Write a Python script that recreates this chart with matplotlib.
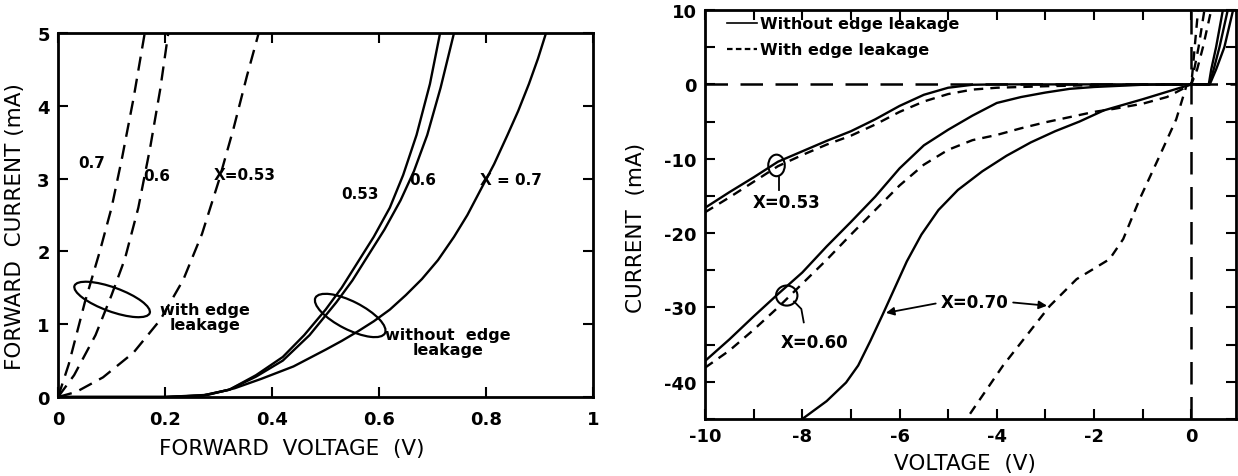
import numpy as np
import matplotlib
matplotlib.use("Agg")
import matplotlib.pyplot as plt
from matplotlib.patches import Ellipse
from matplotlib.lines import Line2D
import matplotlib.transforms as mtransforms

plt.rcParams["font.family"] = ["DejaVu Sans"]
plt.rcParams["axes.unicode_minus"] = False

# ---- left panel: forward I-V (V, mA) ----
# without edge leakage (solid)
fw_v_053 = [0, 0.2, 0.27, 0.32, 0.37, 0.42, 0.46, 0.5, 0.53, 0.56, 0.59, 0.62, 0.645, 0.67, 0.695, 0.714]
fw_i_053 = [0, 0, 0.02, 0.1, 0.3, 0.55, 0.85, 1.2, 1.5, 1.85, 2.2, 2.6, 3.05, 3.6, 4.3, 5.0]
fw_v_060 = [0, 0.2, 0.27, 0.32, 0.37, 0.42, 0.47, 0.52, 0.55, 0.58, 0.61, 0.64, 0.665, 0.69, 0.715, 0.74]
fw_i_060 = [0, 0, 0.02, 0.1, 0.28, 0.5, 0.85, 1.3, 1.6, 1.95, 2.3, 2.7, 3.1, 3.6, 4.25, 5.0]
fw_v_070 = [0, 0.2, 0.28, 0.33, 0.38, 0.44, 0.5, 0.53, 0.56, 0.59, 0.62, 0.65, 0.68, 0.71, 0.74,
            0.765, 0.79, 0.815, 0.84, 0.86, 0.88, 0.897, 0.912]
fw_i_070 = [0, 0, 0.03, 0.12, 0.25, 0.42, 0.65, 0.77, 0.9, 1.04, 1.2, 1.4, 1.62, 1.88, 2.2,
            2.5, 2.85, 3.2, 3.6, 3.93, 4.3, 4.65, 5.0]
# with edge leakage (dashed)
fwl_v_070 = [0, 0.02, 0.05, 0.078, 0.1, 0.12, 0.141, 0.162]
fwl_i_070 = [0, 0.45, 1.3, 2.0, 2.6, 3.3, 4.1, 5.0]
fwl_v_060 = [0, 0.03, 0.07, 0.1, 0.125, 0.15, 0.172, 0.191, 0.206]
fwl_i_060 = [0, 0.3, 0.85, 1.4, 1.9, 2.6, 3.42, 4.23, 5.0]
fwl_v_053 = [0, 0.034, 0.084, 0.141, 0.191, 0.234, 0.269, 0.3, 0.328, 0.353, 0.375]
fwl_i_053 = [0, 0.07, 0.27, 0.61, 1.06, 1.61, 2.24, 2.96, 3.69, 4.41, 5.0]

# ---- right panel: full I-V (V, mA) ----
iv_v_053 = [-10, -9.5, -9, -8.5, -8, -7.5, -7, -6.5, -6, -5.5, -5, -4.5, -4, 0, 0.36, 0.41, 0.51, 0.65]
iv_i_053 = [-16.6, -14.5, -12.5, -10.4, -9.0, -7.6, -6.3, -4.7, -2.9, -1.4, -0.45, -0.05, 0, 0, 0, 2, 5, 10]
ivl_v_053 = [-10, -9.5, -9, -8.5, -8, -7.5, -7, -6.5, -6, -5.5, -5, -4.5, -4, -3, -2, 0, 0.12, 0.24, 0.41]
ivl_i_053 = [-17.2, -15.2, -13.1, -11.0, -9.5, -8.1, -6.9, -5.4, -3.7, -2.3, -1.3, -0.7, -0.45, -0.25, -0.1, 0, 2, 5, 10]

iv_v_060 = [-10, -9.5, -9, -8.5, -8, -7.5, -7, -6.5, -6, -5.5, -5, -4.5, -4, -3.5, -3, -2.5, -2, -1, 0,
            0.37, 0.46, 0.58, 0.75]
iv_i_060 = [-37.2, -34.3, -31.2, -28.2, -25.3, -21.8, -18.5, -15.1, -11.3, -8.2, -6.1, -4.2, -2.5, -1.7,
            -1.1, -0.6, -0.35, -0.05, 0, 0, 2, 5, 10]
ivl_v_060 = [-10, -9.5, -9, -8.5, -8, -7.5, -7, -6.5, -6, -5.5, -5, -4.5, -4, -3.5, -3, -2.5, -2, -1.6,
             -1, -0.5, 0, 0.06, 0.15, 0.27]
ivl_i_060 = [-38.1, -35.8, -33.0, -30.0, -26.8, -23.6, -20.2, -16.9, -13.6, -10.8, -8.8, -7.5, -6.8, -5.9,
             -5.1, -4.4, -3.7, -3.3, -2.6, -1.7, 0, 2, 5, 10]

iv_v_070 = [-8.0, -7.5, -7.1, -6.85, -6.6, -6.35, -6.1, -5.85, -5.55, -5.2, -4.8, -4.3, -3.8, -3.3, -2.8,
            -2.3, -1.8, -1.0, -0.5, 0, 0.38, 0.51, 0.68, 0.86]
iv_i_070 = [-45, -42.6, -40.1, -37.8, -34.5, -31.0, -27.4, -23.8, -20.2, -16.9, -14.2, -11.7, -9.6, -7.8,
            -6.3, -5.0, -3.5, -2.0, -1.0, 0, 0, 2, 5, 10]
ivl_v_070 = [-4.55, -3.87, -2.91, -2.36, -1.68, -1.40, -1.06, -0.65, -0.31, -0.1, 0, 0.03, 0.07, 0.14]
ivl_i_070 = [-44.3, -37.8, -29.8, -26.2, -23.5, -20.8, -15.4, -9.6, -4.7, -0.2, 0, 2, 5, 10]

fig = plt.figure(figsize=(12.38, 4.77), dpi=100)
ax1 = fig.add_axes([0.0469, 0.1656, 0.4322, 0.7631])
ax2 = fig.add_axes([0.5695, 0.1195, 0.4289, 0.8574])

LW = 1.7
dash_l = (6, 3.5)
dash_r = (4, 3)

# left panel
for v, i in [(fw_v_053, fw_i_053), (fw_v_060, fw_i_060), (fw_v_070, fw_i_070)]:
    ax1.plot(v, i, color="black", lw=LW)
for v, i in [(fwl_v_053, fwl_i_053), (fwl_v_060, fwl_i_060), (fwl_v_070, fwl_i_070)]:
    ax1.plot(v, i, color="black", lw=LW, dashes=dash_l)

ax1.set_xlim(0, 1)
ax1.set_ylim(0, 5)
ax1.set_xticks([0, 0.2, 0.4, 0.6, 0.8, 1])
ax1.set_xticklabels(["0", "0.2", "0.4", "0.6", "0.8", "1"])
ax1.set_yticks([0, 1, 2, 3, 4, 5])
ax1.set_xlabel("FORWARD  VOLTAGE  (V)", fontsize=15.5)
ax1.set_ylabel("FORWARD  CURRENT (mA)", fontsize=15.5)
ax1.xaxis.set_label_coords(0.436, -0.112)
ax1.yaxis.set_label_coords(-0.062, 0.47)

txt = dict(fontsize=11, fontweight="bold", ha="center", va="center")
ax1.text(0.062, 3.22, "0.7", **txt)
ax1.text(0.184, 3.04, "0.6", **txt)
ax1.text(0.349, 3.06, "X=0.53", **txt)
ax1.text(0.564, 2.79, "0.53", **txt)
ax1.text(0.682, 2.99, "0.6", **txt)
ax1.text(0.847, 2.99, "X = 0.7", **txt)
ax1.text(0.274, 1.1, "with edge\nleakage", fontsize=11.5, fontweight="bold",
         ha="center", va="center", linespacing=1.0)
ax1.text(0.729, 0.75, "without  edge\nleakage", fontsize=11.5, fontweight="bold",
         ha="center", va="center", linespacing=1.0)

for cx, cy, w, h, ang in [(0.101, 1.34, 0.80, 0.24, -20), (0.546, 1.12, 0.78, 0.28, -27)]:
    tr = fig.dpi_scale_trans + mtransforms.ScaledTranslation(cx, cy, ax1.transData)
    ax1.add_patch(Ellipse((0, 0), w, h, angle=ang, transform=tr, fill=False,
                          lw=1.6, color="black"))

# right panel
ax2.axhline(0, color="black", lw=1.8, dashes=(9, 5))
ax2.axvline(0, color="black", lw=1.8, dashes=(9, 5))
for v, i in [(iv_v_053, iv_i_053), (iv_v_060, iv_i_060), (iv_v_070, iv_i_070)]:
    ax2.plot(v, i, color="black", lw=LW)
for v, i in [(ivl_v_053, ivl_i_053), (ivl_v_060, ivl_i_060), (ivl_v_070, ivl_i_070)]:
    ax2.plot(v, i, color="black", lw=LW, dashes=dash_r)

ax2.set_xlim(-10, 0.92)
ax2.set_ylim(-45, 10)
xt = np.arange(-10, 1)
ax2.set_xticks(xt)
ax2.set_xticklabels([str(t) if t % 2 == 0 else "" for t in xt])
yt = np.arange(-45, 11, 5)
ax2.set_yticks(yt)
ax2.set_yticklabels([str(t) if t % 10 == 0 else "" for t in yt])
ax2.set_xlabel("VOLTAGE  (V)", fontsize=15.5)
ax2.set_ylabel("CURRENT  (mA)", fontsize=15.5)
ax2.xaxis.set_label_coords(0.49, -0.082)
ax2.yaxis.set_label_coords(-0.112, 0.47)

txt_r = dict(txt, fontsize=12)
ax2.text(-8.33, -15.8, "X=0.53", **txt_r)
ax2.text(-7.75, -34.7, "X=0.60", **txt_r)
ax2.text(-4.45, -29.3, "X=0.70", **txt_r)
ax2.add_patch(Ellipse((-8.53, -10.9), 0.34, 2.9, fill=False, lw=1.5, color="black"))
ax2.plot([-8.47, -8.47], [-12.4, -14.2], color="black", lw=1.3)
ax2.add_patch(Ellipse((-8.32, -28.4), 0.44, 2.7, fill=False, lw=1.5, color="black"))
ax2.plot([-8.17, -8.02, -7.97], [-29.2, -30.2, -32.0], color="black", lw=1.3)

arr = dict(arrowstyle="-|>", color="black", lw=1.3, mutation_scale=12)
rev = slice(0, 20)
hit_i = -30.8
hit_v = np.interp(hit_i, iv_i_070[rev], iv_v_070[rev])
ax2.annotate("", xy=(hit_v, hit_i), xytext=(-5.2, -29.4), arrowprops=arr)
ax2.annotate("", xy=(-2.91, -29.8), xytext=(-3.72, -29.3), arrowprops=arr)

leg_handles = [Line2D([], [], color="black", lw=1.2),
               Line2D([], [], color="black", lw=1.6, dashes=(2.5, 1.5))]
ax2.legend(leg_handles, ["Without edge leakage", "With edge leakage"], loc="upper left",
           bbox_to_anchor=(0.02, 1.012), frameon=False, handlelength=1.9, handletextpad=0.15,
           labelspacing=0.7, borderpad=0.2, prop={"size": 11.5, "weight": "bold"})

for ax, pad in ((ax1, 9), (ax2, 6)):
    for s in ax.spines.values():
        s.set_linewidth(2)
    ax.tick_params(direction="in", length=7, width=1.5, top=True, right=True,
                   labelsize=13, pad=pad)
    for lab in ax.get_xticklabels() + ax.get_yticklabels():
        lab.set_fontweight("bold")
ax1.tick_params(axis="y", pad=6)

fig.savefig("out.png", dpi=100)
